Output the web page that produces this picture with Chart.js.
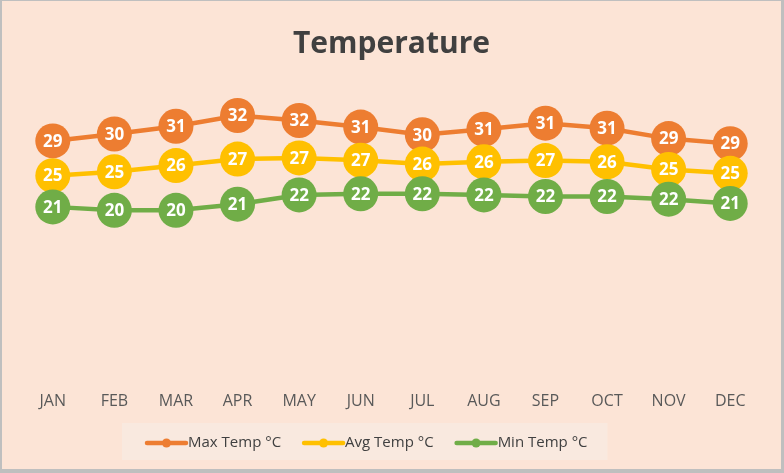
<!DOCTYPE html>
<html>
<head>
<meta charset="utf-8">
<script src="https://cdn.jsdelivr.net/npm/chart.js@4.4.1/dist/chart.umd.min.js"></script>
<style>
  html, body { margin: 0; padding: 0; background: #bfbfbf; }
  #wrap { position: absolute; left: 2px; top: 1px; width: 779px; height: 468px; background: #fce4d6; }
</style>
</head>
<body>
<div id="wrap"><canvas id="chart"></canvas></div>
<script>
const months = ["JAN", "FEB", "MAR", "APR", "MAY", "JUN", "JUL", "AUG", "SEP", "OCT", "NOV", "DEC"]
const maxTemp = [29.1, 30.0, 31.0, 32.4, 31.75, 30.9, 29.9, 30.6, 31.4, 30.75, 29.4, 28.75]
const avgTemp = [24.6, 25.1, 25.9, 26.75, 26.9, 26.6, 26.1, 26.4, 26.55, 26.4, 25.4, 24.9]
const minTemp = [20.55, 20.1, 20.1, 20.9, 22.1, 22.25, 22.25, 22.1, 21.9, 21.9, 21.55, 21.0]

const FONT = "'Open Sans', 'Noto Sans', sans-serif"

// white rounded values inside each marker, drawn right after its own dataset
const valueLabels = {
  id: "valueLabels",
  afterDatasetDraw(chart, args) {
    const {ctx} = chart
    const data = chart.data.datasets[args.index].data
    ctx.save()
    ctx.font = `bold 17px ${FONT}`
    ctx.fillStyle = "#ffffff"
    ctx.textAlign = "center"
    ctx.textBaseline = "middle"
    args.meta.data.forEach((point, i) => {
      ctx.fillText(String(Math.round(data[i])), point.x, point.y + 1)
    })
    ctx.restore()
  },
}

// excel-like legend: shaded box, line with a dot, then the label
const boxLegend = {
  id: "boxLegend",
  afterDraw(chart) {
    const {ctx} = chart
    const startX = 145
    const midY = 442
    ctx.save()
    ctx.font = `15px ${FONT}`
    let x = startX
    const items = chart.data.datasets.map((ds) => {
      const item = {x, label: ds.label, color: ds.borderColor}
      x += 41 + ctx.measureText(ds.label).width + 23
      return item
    })
    const endX = x - 23
    ctx.fillStyle = "#f9e9df"
    ctx.fillRect(startX - 25, 422, endX + 20 - (startX - 25), 37)

    items.forEach((item) => {
      ctx.strokeStyle = item.color
      ctx.lineWidth = 4.5
      ctx.lineCap = "round"
      ctx.beginPath()
      ctx.moveTo(item.x, midY)
      ctx.lineTo(item.x + 39, midY)
      ctx.stroke()
      ctx.fillStyle = item.color
      ctx.beginPath()
      ctx.arc(item.x + 19.5, midY, 4.5, 0, Math.PI * 2)
      ctx.fill()
      ctx.fillStyle = "#404040"
      ctx.textAlign = "left"
      ctx.textBaseline = "middle"
      ctx.fillText(item.label, item.x + 41, midY)
    })
    ctx.restore()
  },
}

const series = (label, data, color, order) => ({
  label,
  data,
  order,
  borderColor: color,
  backgroundColor: color,
  borderWidth: 4.5,
  pointRadius: 17.5,
  pointHoverRadius: 17.5,
  pointBorderWidth: 0,
  pointBackgroundColor: color,
  tension: 0,
})

new Chart(document.getElementById("chart"), {
  type: "line",
  data: {
    labels: months,
    datasets: [
      series("Max Temp °C", maxTemp, "#ed7d31", 3),
      series("Avg Temp °C", avgTemp, "#ffc000", 2),
      series("Min Temp °C", minTemp, "#70ad47", 1),
    ],
  },
  options: {
    responsive: true,
    maintainAspectRatio: false,
    animation: false,
    layout: {
      padding: {left: 20, right: 20, top: 0, bottom: 55},
    },
    plugins: {
      legend: {display: false},
      tooltip: {enabled: false},
      title: {
        display: true,
        text: "Temperature",
        color: "#404040",
        font: {family: FONT, size: 30, weight: "bold"},
        padding: {top: 25, bottom: 18},
      },
    },
    scales: {
      x: {
        offset: true,
        grid: {display: false},
        border: {display: false},
        ticks: {
          color: "#595959",
          font: {family: FONT, size: 16},
          padding: 3,
          maxRotation: 0,
        },
      },
      y: {
        display: false,
        min: -2,
        max: 37,
      },
    },
  },
  plugins: [valueLabels, boxLegend],
})
</script>
</body>
</html>
